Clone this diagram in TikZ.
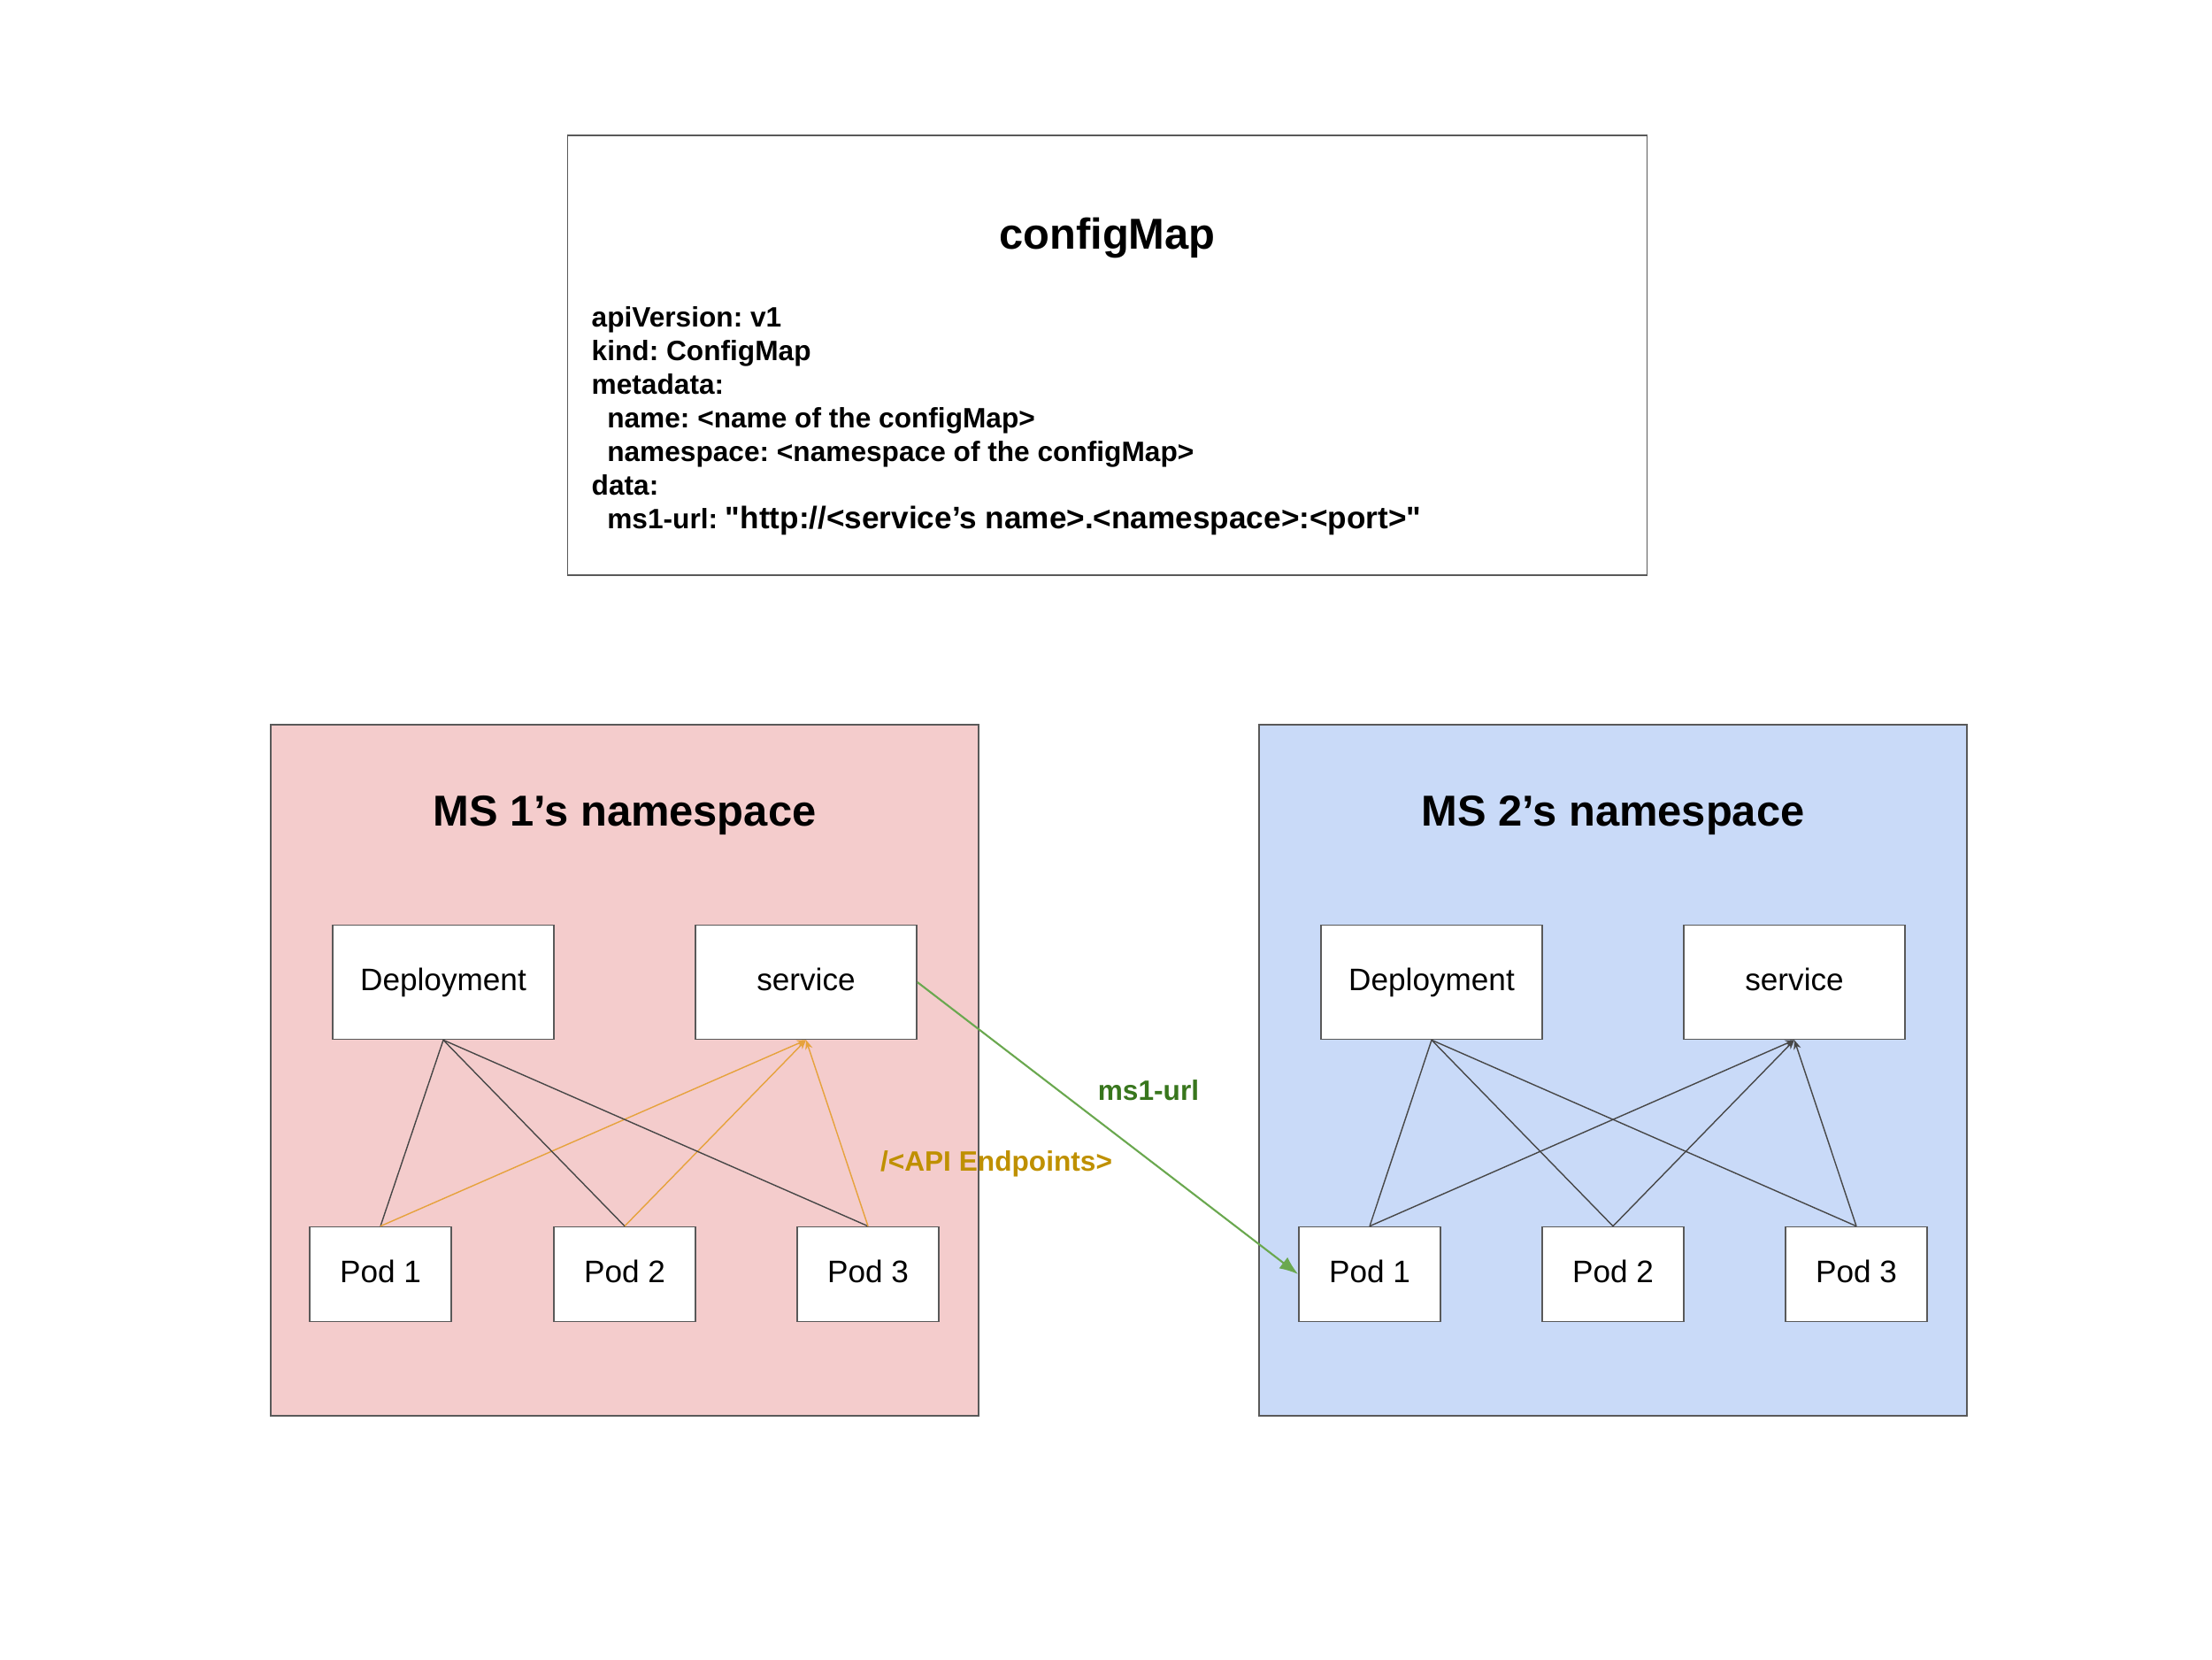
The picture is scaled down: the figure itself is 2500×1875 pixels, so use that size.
\documentclass[tikz,border=0pt]{standalone}
\usepackage{fontspec}
\setmainfont[Ligatures=TeXOff]{Liberation Sans}
\usetikzlibrary{arrows.meta}
\definecolor{nsred}{HTML}{F4CCCC}
\definecolor{nsblue}{HTML}{C9DAF8}
\definecolor{edgegray}{HTML}{595959}
\definecolor{urlgreen}{HTML}{6AA84F}
\definecolor{urltext}{HTML}{38761D}
\definecolor{apiline}{HTML}{E6A23C}
\definecolor{apitext}{HTML}{BF9000}
\frenchspacing
\begin{document}
\begin{tikzpicture}[x=0.01cm,y=-0.01cm,
	nsbox/.style={draw=edgegray, line width=0.45pt, minimum width=8cm, minimum height=7.81cm, inner sep=0pt},
	nstitle/.style={font=\bfseries\fontsize{13.9}{16}\selectfont},
	objbox/.style={draw=edgegray, fill=white, line width=0.45pt, minimum width=2.5cm, minimum height=1.29cm, inner sep=0pt, text height=7.3pt, text depth=2.1pt, font=\fontsize{10}{12}\selectfont},
	podbox/.style={objbox, minimum width=1.6cm, minimum height=1.07cm},
	depline/.style={draw=edgegray!80!black, line width=0.4pt},
	svcline/.style={line width=0.4pt, -{Stealth[length=3pt,width=2.4pt]}}]
	\useasboundingbox (0,0) rectangle (2500,1875);
	
	\node [draw=edgegray, line width=0.45pt, minimum width=12.19cm, minimum height=4.97cm, inner sep=0pt] (cmap) at (1251.5,401.5) {};
	\node [font=\bfseries\fontsize{13.9}{16}\selectfont] (cmaptitle) at (1251.5,269) {configMap};
	\node [anchor=west, align=left, inner sep=0pt, font=\bfseries\fontsize{9}{10.8}\selectfont] (cmapyaml) at (668,476) {apiVersion: v1\\ kind: ConfigMap\\ metadata:\\ \hspace*{5pt}name: <name of the configMap>\\ \hspace*{5pt}namespace: <namespace of the configMap>\\ data:\\ \hspace*{5pt}ms1-url: {\fontsize{10}{10.8}\selectfont "http://<service’s name>.<namespace>:<port>"}};
	
	\node [nsbox, fill=nsred] (ns1) at (706,1209.5) {};
	\node [nsbox, fill=nsblue] (ns2) at (1823,1209.5) {};
	\node [nstitle] (ns1title) at (706,921) {MS 1’s namespace};
	\node [nstitle] (ns2title) at (1823,921) {MS 2’s namespace};
	
	\node [objbox] (dep1) at (501,1110) {Deployment};
	\node [objbox] (svc1) at (911,1110) {service};
	\node [objbox] (dep2) at (1618,1110) {Deployment};
	\node [objbox] (svc2) at (2028,1110) {service};
	\foreach \i/\x in {1/430,2/706,3/981}
		\node [podbox] (pa\i) at (\x,1440) {Pod \i};
	\foreach \i/\x in {1/1548,2/1823,3/2098}
		\node [podbox] (pb\i) at (\x,1440) {Pod \i};
	
	\foreach \i in {1,2,3} {
		\draw[depline] (dep1.south) -- (pa\i.north);
		\draw[svcline, apiline] (pa\i.north) -- (svc1.south);
		\draw[depline] (dep2.south) -- (pb\i.north);
		\draw[svcline, edgegray!80!black] (pb\i.north) -- (svc2.south);
	}
	
	\draw[urlgreen, line width=0.6pt, -{Latex[length=6pt,width=4.5pt]}] (svc1.east) -- (pb1.west);
	\node [text=urltext, font=\bfseries\fontsize{9}{11}\selectfont] (urllabel) at (1298,1232) {ms1-url};
	\node [text=apitext, font=\bfseries\fontsize{9}{11}\selectfont] (apilabel) at (1126,1315) {/<API Endpoints>};
\end{tikzpicture}
\end{document}
